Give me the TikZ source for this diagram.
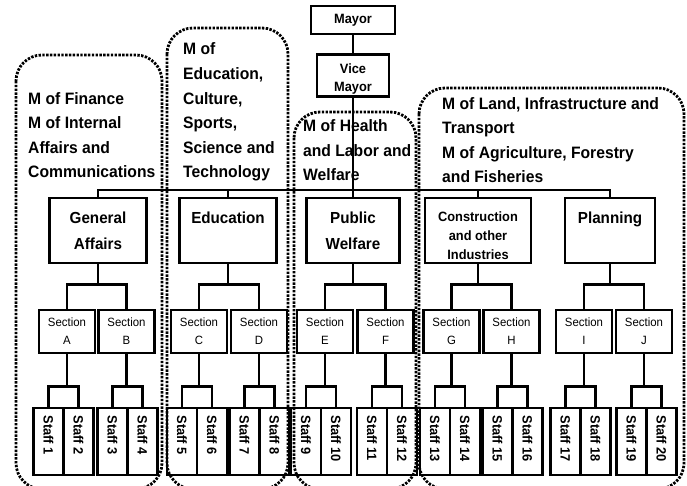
\documentclass[tikz,border=0pt]{standalone}
\usepackage{fontspec}
\setmainfont{Liberation Sans}[FakeStretch=0.95]
\usetikzlibrary{positioning}
\tikzset{%
	% Specifications for style of nodes:
	base/.style = {rectangle, draw=black, line width=2.6pt, fill=white,
		align=center, font=\bfseries},
	topbox/.style = {base, minimum width=84pt, minimum height=28pt,
		inner sep=2pt, font=\fontsize{13.5}{18}\selectfont\bfseries},
	dept/.style = {base, minimum width=97pt, inner ysep=0pt,
		text height=26pt, text depth=39pt,
		font=\fontsize{16}{25}\selectfont\bfseries},
	% the last line sits on the baseline, so two lines need more height
	twoline/.style = {text height=51pt, text depth=14pt},
	section/.style = {base, minimum width=56pt, minimum height=43pt,
		inner sep=1pt, font=\fontsize{12}{18}\selectfont},
	staff/.style = {base, minimum width=30pt, minimum height=67pt,
		inner sep=0pt, outer sep=0pt,
		font=\fontsize{13.5}{16}\selectfont\bfseries},
	ministry/.style = {anchor=base west, align=left, inner sep=0pt,
		font=\fontsize{16.5}{24.6}\selectfont\bfseries},
	region/.style = {draw=black, line width=2.8pt,
		dash pattern=on 2.4pt off 1.4pt, rounded corners=26pt},
	link/.style = {draw=black, line width=2.6pt},
}
\newcommand{\staffname}[1]{\rotatebox{-90}{\makebox[52pt][l]{Staff #1}}}

\begin{document}
\begin{tikzpicture}[x=1pt, y=-1pt, node distance=18pt]
	\useasboundingbox (0,0) rectangle (687,486);

	% ministries over each group of departments
	\node (finance) [ministry] at (28,178) {M of Finance\\M of Internal\\Affairs and\\Communications};
	\node (educ) [ministry] at (183,178) {M of\\Education,\\Culture,\\Sports,\\Science and\\Technology};
	\node (health) [ministry] at (303,181) {M of Health\\and Labor and\\Welfare};
	\node (land) [ministry] at (442,183) {M of Land, Infrastructure and\\Transport\\M of Agriculture, Forestry\\and Fisheries};

	\node (mayor) [topbox] at (353,20) {Mayor};
	\node (vice) [topbox, minimum width=72pt, text height=35pt, text depth=3pt,
		below=18pt of mayor] {Vice\\Mayor};
	\draw [link] (mayor) -- (vice);

	% sections and their staff
	\foreach \sname/\x/\sx [count=\i] in {A/67/63.5, B/126.5/127.5, C/199/197, D/259/259.5, E/325/321,
		F/385.5/387, G/451.5/450, H/511.5/512.5, I/584/580.5, J/644/646.5}{
		\pgfmathtruncatemacro{\staffA}{2*\i-1}
		\pgfmathtruncatemacro{\staffB}{2*\i}
		\node (sec\sname) [section] at (\x,331.5) {Section\\\sname};
		\node (staff\staffA) [staff] at (\sx-15,441.5) {\staffname{\staffA}};
		\node (staff\staffB) [staff, right=0pt of staff\staffA] {\staffname{\staffB}};
		\draw [link] (sec\sname.south) -- ++(0,32) coordinate (fork\sname);
		\draw [link] (staff\staffA.north) |- (fork\sname) -| (staff\staffB.north);
	}

	\node (ga) [dept, twoline] at (98,230.5) {General\\Affairs};
	\node (edu) [dept] at (228,230.5) {Education};
	\node (pw) [dept, twoline, minimum width=93pt] at (353,230.5) {Public\\Welfare};
	\node (con) [dept, minimum width=106pt, text height=61.5pt, text depth=3.5pt,
		font=\fontsize{13.5}{19}\selectfont\bfseries] at (478,230.5) {Construction\\and other\\Industries};
	\node (plan) [dept, minimum width=90pt] at (610,230.5) {Planning};

	\coordinate (bus) at (353,190);
	\draw [link] (vice) -- (bus);
	\draw [link] (ga.north) |- (bus) -| (plan.north);
	\draw [link] (edu.north) -- (edu.north |- bus);
	\draw [link] (pw.north) -- (bus);
	\draw [link] (con.north) -- (con.north |- bus);
	\foreach \dep/\secl/\secr in {ga/A/B, edu/C/D, pw/E/F, con/G/H, plan/I/J}{
		\draw [link] (\dep.south) -- ++(0,20) coordinate (\dep fork);
		\draw [link] (sec\secl.north) |- (\dep fork) -| (sec\secr.north);
	}

	% dotted frames of the ministries
	\draw [region] (16,55) rectangle (162,489);
	\draw [region] (167,28) rectangle (288,489);
	\draw [region] (294,112) rectangle (416,489);
	\draw [region] (419,88) rectangle (684,489);
\end{tikzpicture}
\end{document}
